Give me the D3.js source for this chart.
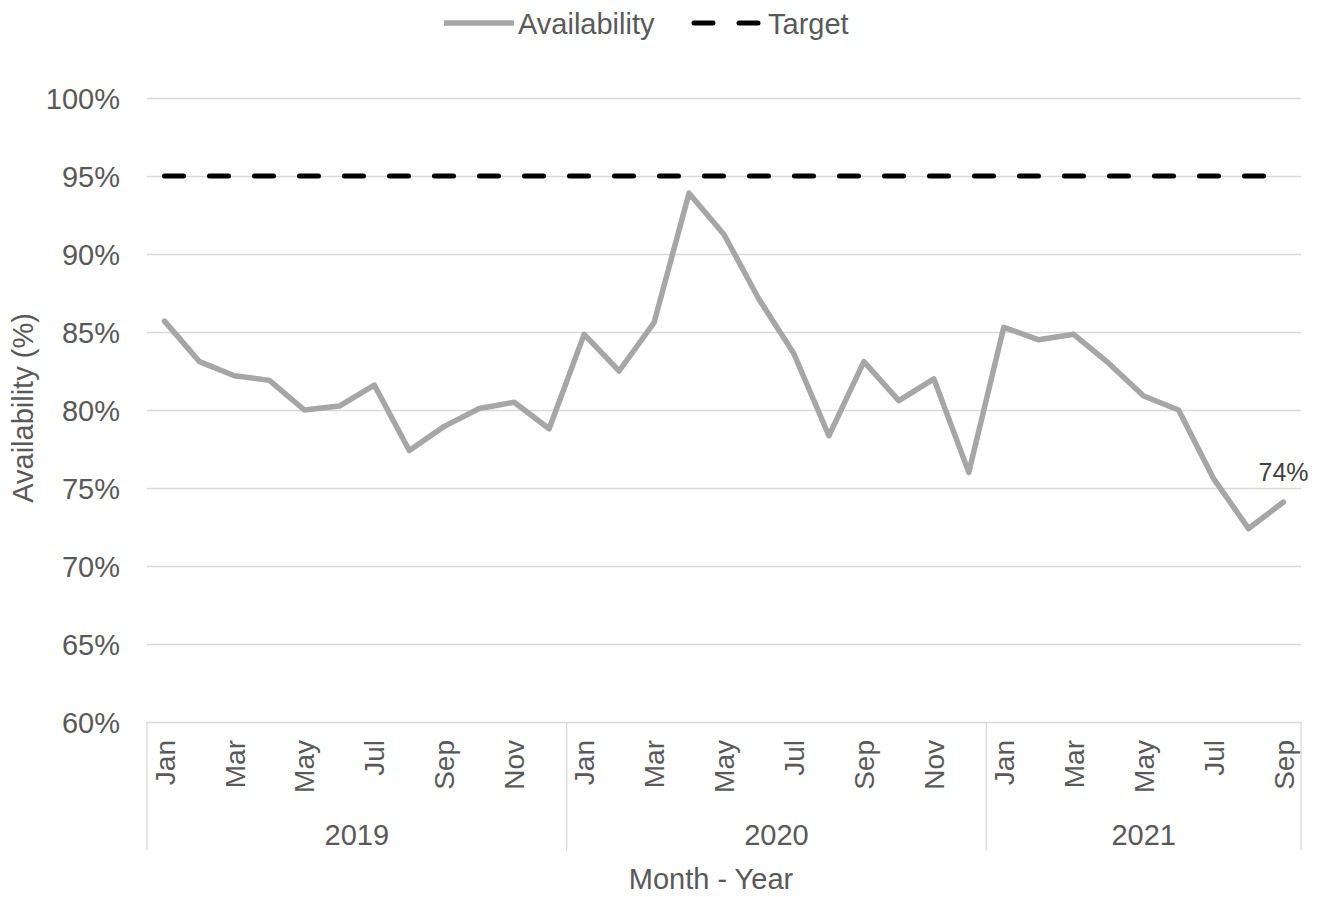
<!DOCTYPE html>
<html>
<head>
<meta charset="utf-8">
<script src="https://cdn.jsdelivr.net/npm/d3@7/dist/d3.min.js"></script>
<style>
  html, body { margin: 0; padding: 0; background: #fff; }
  svg { display: block; font-family: "Liberation Sans", Arial, sans-serif; }
</style>
</head>
<body>
<svg id="chart" width="1321" height="897"></svg>
<script>
const years = ["2019", "2020", "2021"];
const monthNames = ["Jan","Feb","Mar","Apr","May","Jun","Jul","Aug","Sep","Oct","Nov","Dec"];
const monthsPerYear = [12, 12, 9];
const availability = [
  85.7, 83.1, 82.2, 81.9, 80.0, 80.25, 81.6, 77.4, 78.95, 80.1, 80.5, 78.8,
  84.85, 82.5, 85.6, 93.9, 91.25, 87.1, 83.6, 78.35, 83.1, 80.6, 82.0, 76.0,
  85.3, 84.5, 84.85, 83.0, 80.9, 80.0, 75.6, 72.4, 74.1
];
const target = 95;
const yTicks = [60, 65, 70, 75, 80, 85, 90, 95, 100];
const lastLabel = "74%";

(function () {
// categories
const categories = [];
years.forEach((yr, yi) => {
  for (let m = 0; m < monthsPerYear[yi]; m++) categories.push({ year: yr, month: monthNames[m], idx: categories.length });
});

const svg = d3.select("#chart");
const pLeft = 147, pRight = 1301, pTop = 98, pBottom = 722;
const textColor = "#595959";
const gridColor = "#d9d9d9";
const fs = "29px";

const x = d3.scaleBand().domain(categories.map(d => d.idx)).range([pLeft, pRight]).padding(0);
const y = d3.scaleLinear().domain([60, 100]).range([pBottom, pTop]);
const cx = i => x(i) + x.bandwidth() / 2;

// gridlines + y labels
const yAxis = d3.axisLeft(y).tickValues(yTicks).tickFormat(d => d + "%").tickSize(-(pRight - pLeft)).tickPadding(27);
const gy = svg.append("g").attr("transform", `translate(${pLeft},0)`).call(yAxis);
gy.select(".domain").remove();
gy.selectAll(".tick line").attr("stroke", gridColor).attr("stroke-width", 1.3);
gy.selectAll(".tick text").attr("fill", textColor).style("font-size", fs).attr("dy", "0.35em");

// category separators
const yearStarts = [];
let acc = 0;
monthsPerYear.forEach((n, i) => { yearStarts.push({ year: years[i], start: acc, end: acc + n }); acc += n; });
const sepXs = yearStarts.map(d => x(d.start)).concat([pRight]);
svg.append("g").selectAll("line").data(sepXs).join("line")
  .attr("x1", d => d).attr("x2", d => d).attr("y1", pBottom).attr("y2", 850)
  .attr("stroke", gridColor).attr("stroke-width", 1.3);

// month labels
svg.append("g").selectAll("text").data(categories.filter(d => d.idx % 2 === 0)).join("text")
  .attr("transform", d => `translate(${cx(d.idx)},740) rotate(-90)`)
  .attr("text-anchor", "end").attr("dy", "0.36em")
  .attr("fill", textColor).style("font-size", "28px")
  .text(d => d.month);

// year labels
svg.append("g").selectAll("text").data(yearStarts).join("text")
  .attr("x", d => (x(d.start) + (d.end < categories.length ? x(d.end) : pRight)) / 2)
  .attr("y", 845).attr("text-anchor", "middle")
  .attr("fill", textColor).style("font-size", fs)
  .text(d => d.year);

// axis titles
svg.append("text").attr("x", 711).attr("y", 889).attr("text-anchor", "middle")
  .attr("fill", textColor).style("font-size", fs).text("Month - Year");
svg.append("text").attr("transform", `translate(33,${(pTop + pBottom) / 2 - 2}) rotate(-90)`)
  .attr("text-anchor", "middle").attr("fill", textColor).style("font-size", fs)
  .text("Availability (%)");

// target line
svg.append("line")
  .attr("x1", cx(0)).attr("x2", cx(categories.length - 1))
  .attr("y1", y(target)).attr("y2", y(target))
  .attr("stroke", "#000").attr("stroke-width", 5)
  .attr("stroke-dasharray", "19,26").attr("stroke-linecap", "round");

// availability line
const line = d3.line().x((d, i) => cx(i)).y(d => y(d));
svg.append("path").datum(availability)
  .attr("d", line).attr("fill", "none")
  .attr("stroke", "#a6a6a6").attr("stroke-width", 5.5)
  .attr("stroke-linejoin", "round").attr("stroke-linecap", "round");

// data label
const li = availability.length - 1;
svg.append("text").attr("x", cx(li)).attr("y", y(availability[li]) - 21)
  .attr("text-anchor", "middle").attr("fill", "#404040").style("font-size", "25px")
  .text(lastLabel);

// legend
const lg = svg.append("g");
lg.append("line").attr("x1", 444).attr("x2", 514).attr("y1", 23).attr("y2", 23)
  .attr("stroke", "#a6a6a6").attr("stroke-width", 5.5);
lg.append("text").attr("x", 518).attr("y", 34).attr("fill", textColor).style("font-size", fs).text("Availability");
lg.append("line").attr("x1", 694).attr("x2", 762).attr("y1", 23).attr("y2", 23)
  .attr("stroke", "#000").attr("stroke-width", 5)
  .attr("stroke-dasharray", "19,26").attr("stroke-linecap", "round");
lg.append("text").attr("x", 768).attr("y", 34).attr("fill", textColor).style("font-size", fs).text("Target");
})();
</script>
</body>
</html>
